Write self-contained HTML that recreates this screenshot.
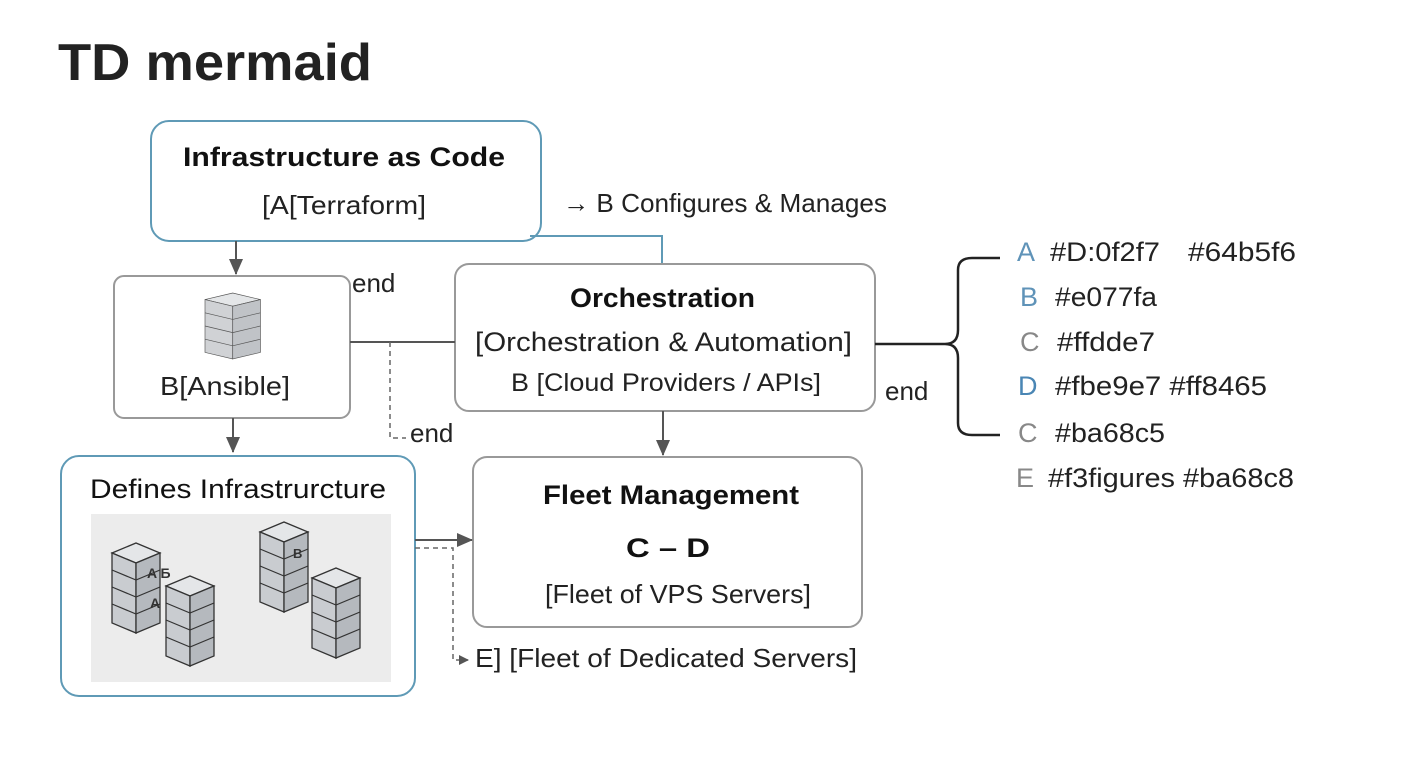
<!DOCTYPE html>
<html><head><meta charset="utf-8"><style>
html,body{margin:0;padding:0;background:#fff;}
svg{display:block;font-family:"Liberation Sans",Arial,sans-serif;}
</style></head><body>
<svg width="1408" height="768" viewBox="0 0 1408 768" xmlns="http://www.w3.org/2000/svg">
<defs>
<marker id="ah" markerWidth="10" markerHeight="10" refX="9" refY="5" orient="auto" markerUnits="userSpaceOnUse"><path d="M0,0 L10,5 L0,10 z" fill="#555"/></marker>
<marker id="ah2" markerWidth="16" markerHeight="14" refX="15" refY="7" orient="auto" markerUnits="userSpaceOnUse"><path d="M0,0 L16,7 L0,14 z" fill="#555"/></marker>
<g id="srv">
<path d="M0,10 L24,0 L48,10 L24,20 Z" fill="#e4e6e8" stroke="#333" stroke-width="1.3"/>
<path d="M0,10 L24,20 L24,90 L0,80 Z" fill="#c9ccd0" stroke="#333" stroke-width="1.3"/>
<path d="M24,20 L48,10 L48,80 L24,90 Z" fill="#b5b9be" stroke="#333" stroke-width="1.3"/>
<path d="M0,27 L24,37 L48,27 M0,44 L24,54 L48,44 M0,61 L24,71 L48,61" fill="none" stroke="#333" stroke-width="1.2"/>
</g>
</defs>
<text x="58" y="80" font-size="52" font-weight="bold" fill="#222" textLength="314" lengthAdjust="spacingAndGlyphs">TD mermaid</text>

<rect x="151" y="121" width="390" height="120" rx="18" fill="#fff" stroke="#5f9ab6" stroke-width="2"/>
<text x="183" y="166" font-size="27" font-weight="bold" fill="#111" textLength="322" lengthAdjust="spacingAndGlyphs">Infrastructure as Code</text>
<text x="262" y="214" font-size="26" fill="#222" textLength="164" lengthAdjust="spacingAndGlyphs">[A[Terraform]</text>
<text x="563" y="212" font-size="26" fill="#222" textLength="324" lengthAdjust="spacingAndGlyphs">→ B Configures &amp; Manages</text>
<path d="M530,236 H662 V264" fill="none" stroke="#5f9ab6" stroke-width="2"/>
<line x1="236" y1="241" x2="236" y2="274" stroke="#555" stroke-width="2" marker-end="url(#ah2)"/>

<rect x="114" y="276" width="236" height="142" rx="10" fill="#fff" stroke="#999" stroke-width="2"/>
<g transform="translate(205,293) scale(0.66)"><path d="M0,10 L42,0 L84,10 L42,20 Z" fill="#e4e6e8" stroke="#555"/><path d="M0,10 L42,20 L42,100 L0,90 Z" fill="#d0d2d5" stroke="#555"/><path d="M42,20 L84,10 L84,90 L42,100 Z" fill="#c0c3c7" stroke="#555"/><path d="M0,30 L42,40 L84,30 M0,50 L42,60 L84,50 M0,70 L42,80 L84,70" fill="none" stroke="#555"/></g>
<text x="160" y="395" font-size="26" fill="#222" textLength="130" lengthAdjust="spacingAndGlyphs">B[Ansible]</text>
<text x="352" y="292" font-size="26" fill="#222">end</text>

<rect x="455" y="264" width="420" height="147" rx="14" fill="#fff" stroke="#999" stroke-width="2"/>
<text x="570" y="307" font-size="27" font-weight="bold" fill="#111" textLength="185" lengthAdjust="spacingAndGlyphs">Orchestration</text>
<text x="475" y="351" font-size="27" fill="#222" textLength="377" lengthAdjust="spacingAndGlyphs">[Orchestration &amp; Automation]</text>
<text x="511" y="391" font-size="25" fill="#222" textLength="310" lengthAdjust="spacingAndGlyphs">B [Cloud Providers / APIs]</text>
<line x1="350" y1="342" x2="455" y2="342" stroke="#555" stroke-width="2"/>
<path d="M390,342 V438 H406" fill="none" stroke="#666" stroke-width="1.5" stroke-dasharray="5,4"/>
<text x="410" y="442" font-size="26" fill="#222">end</text>
<line x1="663" y1="411" x2="663" y2="455" stroke="#555" stroke-width="2" marker-end="url(#ah2)"/>
<line x1="233" y1="418" x2="233" y2="452" stroke="#555" stroke-width="2" marker-end="url(#ah2)"/>
<text x="885" y="400" font-size="26" fill="#222">end</text>

<rect x="61" y="456" width="354" height="240" rx="18" fill="#fff" stroke="#5f9ab6" stroke-width="2"/>
<text x="90" y="498" font-size="27" fill="#111" textLength="296" lengthAdjust="spacingAndGlyphs">Defines Infrastrurcture</text>
<rect x="91" y="514" width="300" height="168" fill="#ececec"/>
<use href="#srv" x="112" y="543"/>
<use href="#srv" x="166" y="576"/>
<use href="#srv" x="260" y="522"/>
<use href="#srv" x="312" y="568"/>
<text x="147" y="578" font-size="14" font-weight="bold" fill="#333">A Б</text>
<text x="150" y="608" font-size="14" font-weight="bold" fill="#333">A</text>
<text x="293" y="558" font-size="13" font-weight="bold" fill="#333">B</text>

<rect x="473" y="457" width="389" height="170" rx="14" fill="#fff" stroke="#999" stroke-width="2"/>
<text x="543" y="504" font-size="27" font-weight="bold" fill="#111" textLength="256" lengthAdjust="spacingAndGlyphs">Fleet Management</text>
<text x="626" y="557" font-size="27" font-weight="bold" fill="#111" textLength="84" lengthAdjust="spacingAndGlyphs">C – D</text>
<text x="545" y="603" font-size="26" fill="#222" textLength="266" lengthAdjust="spacingAndGlyphs">[Fleet of VPS Servers]</text>
<line x1="415" y1="540" x2="472" y2="540" stroke="#555" stroke-width="2" marker-end="url(#ah2)"/>
<path d="M415,548 H453 V660 H468" fill="none" stroke="#666" stroke-width="1.5" stroke-dasharray="5,4" marker-end="url(#ah)"/>
<text x="475" y="667" font-size="26" fill="#222" textLength="382" lengthAdjust="spacingAndGlyphs">E] [Fleet of Dedicated Servers]</text>

<path d="M875,344 H945 Q958,344 958,330 V270 Q958,258 972,258 H1000 M945,344 Q958,344 958,358 V423 Q958,435 972,435 H1000" fill="none" stroke="#222" stroke-width="2.5"/>
<g font-size="27" fill="#222">
<text x="1017" y="261" fill="#5f93b8">A</text><text x="1050" y="261" textLength="110" lengthAdjust="spacingAndGlyphs">#D:0f2f7</text><text x="1188" y="261" textLength="108" lengthAdjust="spacingAndGlyphs">#64b5f6</text>
<text x="1020" y="306" fill="#5f93b8">B</text><text x="1055" y="306" textLength="102" lengthAdjust="spacingAndGlyphs">#e077fa</text>
<text x="1020" y="351" fill="#888">C</text><text x="1057" y="351" textLength="98" lengthAdjust="spacingAndGlyphs">#ffdde7</text>
<text x="1018" y="395" fill="#4a86b4">D</text><text x="1055" y="395" textLength="212" lengthAdjust="spacingAndGlyphs">#fbe9e7 #ff8465</text>
<text x="1018" y="442" fill="#888">C</text><text x="1055" y="442" textLength="110" lengthAdjust="spacingAndGlyphs">#ba68c5</text>
<text x="1016" y="487" fill="#888">E</text><text x="1048" y="487" textLength="246" lengthAdjust="spacingAndGlyphs">#f3figures #ba68c8</text>
</g>
</svg>
</body></html>
